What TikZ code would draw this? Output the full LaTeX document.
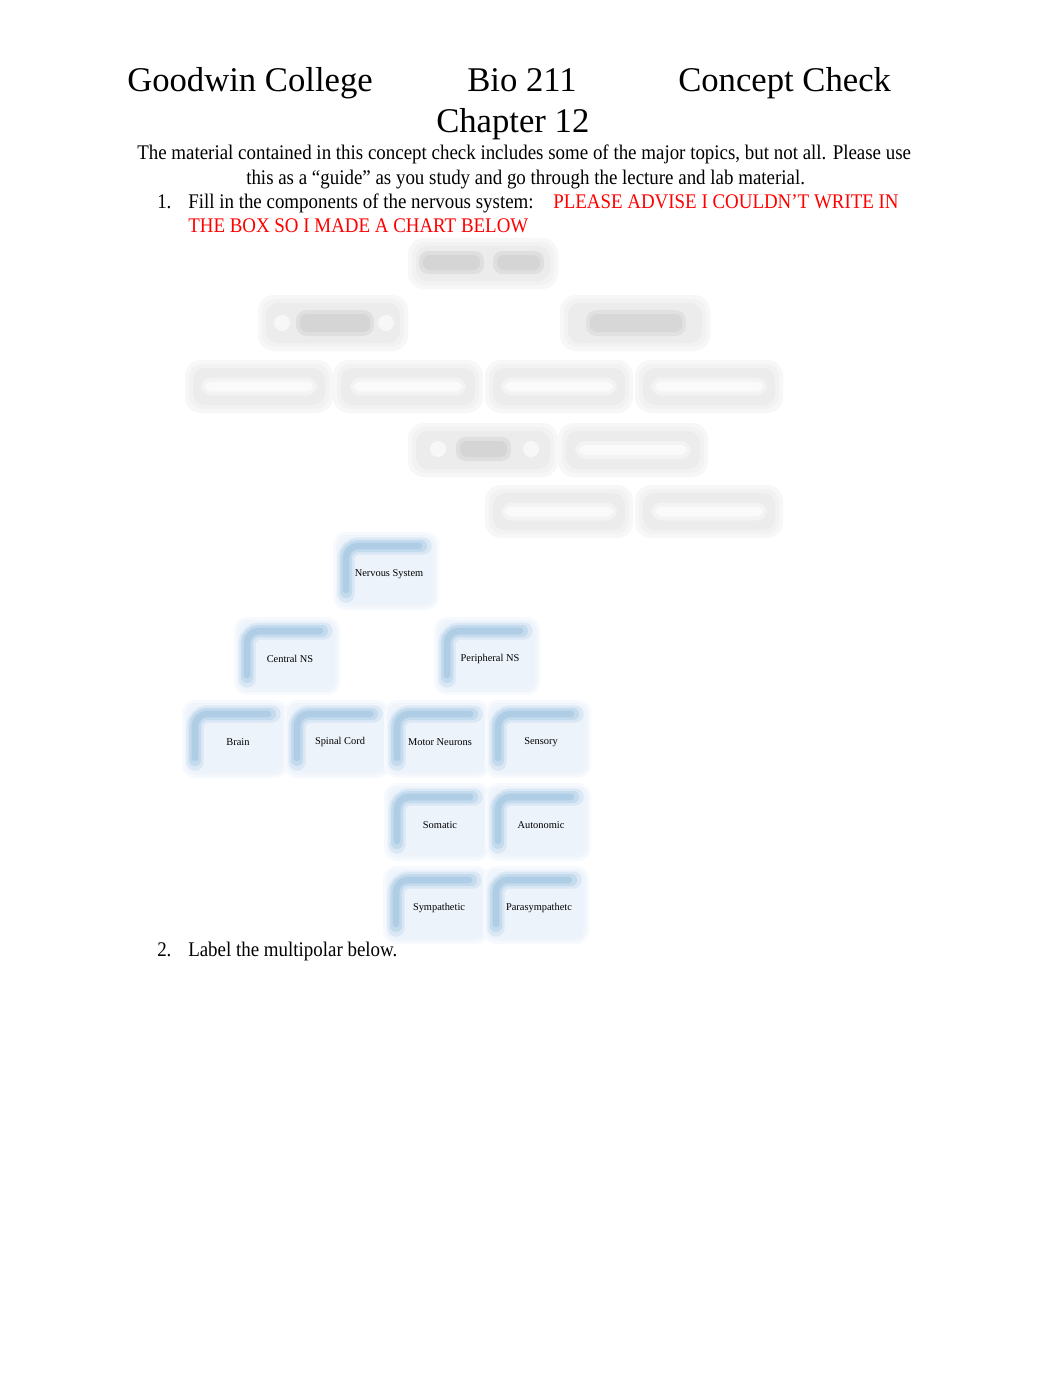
\documentclass[tikz,border=0pt]{standalone}
\usepackage{fontspec}
\setmainfont{Liberation Serif}
\newfontfamily\bodyfont[FakeStretch=0.91]{Liberation Serif}
\definecolor{redtxt}{RGB}{255,0,0}
\definecolor{bedge}{RGB}{120,170,212}
\definecolor{bfill}{RGB}{236,243,251}
\definecolor{gbox}{RGB}{236,236,236}
\definecolor{gglow}{RGB}{247,247,247}
\definecolor{gblob}{RGB}{205,205,205}
\tikzset{
  ptext/.style={inner sep=0pt, anchor=base west, font=\bodyfont\fontsize{15.6}{18}\selectfont},
  ttext/.style={inner sep=0pt, anchor=base west, font=\fontsize{26}{30}\selectfont},
  dtext/.style={inner sep=0pt, font=\fontsize{7.8}{9}\selectfont},
  gnode/.style={inner sep=0pt, minimum size=0pt},
}
% blue SmartArt-like box: name, text-center x, y, text
\newcommand\mybluebox[4]{%
  \fill[bfill!50, rounded corners=10] (#2-56,#3-40) rectangle (#2+50,#3+38);
  \fill[bfill!80, rounded corners=8] (#2-53,#3-37) rectangle (#2+47,#3+35);
  \fill[bfill, rounded corners=7] (#2-50,#3-34) rectangle (#2+44,#3+32);
  \draw[bedge, opacity=.15, line width=13pt, rounded corners=10, line cap=round] (#2-43,#3+22) -- (#2-43,#3-26) -- (#2+34,#3-26);
  \draw[bedge, opacity=.22, line width=9pt, rounded corners=9, line cap=round] (#2-43,#3+20) -- (#2-43,#3-26) -- (#2+32,#3-26);
  \draw[bedge, opacity=.25, line width=5pt, rounded corners=9, line cap=round] (#2-43,#3+18) -- (#2-43,#3-26) -- (#2+30,#3-26);
  \node[dtext] (#1) at (#2,#3+2) {#4};
}
% blurred grey box: name, x1, y1, x2, y2
\newcommand\mygraybox[5]{%
  \fill[gglow, rounded corners=12] (#2-5,#3-5) rectangle (#4+5,#5+5);
  \fill[gbox!70, rounded corners=10] (#2-1,#3-1) rectangle (#4+1,#5+1);
  \fill[gbox, rounded corners=9] (#2+3,#3+3) rectangle (#4-3,#5-3);
  \node[gnode] (#1) at ($(#2,#3)!.5!(#4,#5)$) {};
}
\newcommand\mywhitebar[1]{%
  \fill[white, opacity=.4, rounded corners=8] ($(#1)+(-58,-9)$) rectangle ($(#1)+(58,9)$);
  \fill[white, opacity=.6, rounded corners=5] ($(#1)+(-54,-5)$) rectangle ($(#1)+(54,5)$);
}
\usetikzlibrary{calc}
\begin{document}
\begin{tikzpicture}[x=0.75pt, y=-0.75pt]
\useasboundingbox (0,0) rectangle (1062,1377);
\fill[white] (0,0) rectangle (1062,1377);

% header
\node[ttext] (t1) at (127,92) {Goodwin College};
\node[ttext] (t2) at (467,92) {Bio 211};
\node[ttext] (t3) at (678,92) {Concept Check};
\node[ttext] (t4) at (436,133) {Chapter 12};

\node[ptext] (p1) at (137,160) {The material contained in this concept check includes some of the major topics, but not all. Please use};
\node[ptext] (p2) at (246,185) {this as a “guide” as you study and go through the lecture and lab material.};
\node[ptext] (n1) at (157,208) {1.};
\node[ptext] (q1) at (188,208) {Fill in the components of the nervous system:};
\node[ptext, text=redtxt] (r1) at (553,208) {PLEASE ADVISE I COULDN’T WRITE IN};
\node[ptext, text=redtxt] (r2) at (188,232) {THE BOX SO I MADE A CHART BELOW};

% blurred grey chart
\mygraybox{ga}{413}{243}{553}{284}
\fill[gblob, opacity=.4, rounded corners=7] (419,251) rectangle (484,274);
\fill[gblob, opacity=.5, rounded corners=5] (423,255) rectangle (480,270);
\fill[gblob, opacity=.4, rounded corners=7] (493,251) rectangle (544,274);
\fill[gblob, opacity=.5, rounded corners=5] (497,255) rectangle (540,270);
\mygraybox{gb}{263}{300}{403}{346}
\fill[gblob, opacity=.4, rounded corners=8] (296,310) rectangle (374,336);
\fill[gblob, opacity=.5, rounded corners=5] (300,314) rectangle (370,332);
\fill[white, opacity=.6] (282,323) circle (8);
\fill[white, opacity=.6] (386,323) circle (8);
\mygraybox{gc}{565}{300}{705}{346}
\fill[gblob, opacity=.35, rounded corners=8] (586,310) rectangle (686,336);
\fill[gblob, opacity=.45, rounded corners=5] (590,314) rectangle (682,332);
\mygraybox{gd}{190}{365}{328}{408}
\mygraybox{ge}{338}{365}{478}{408}
\mygraybox{gf}{490}{365}{628}{408}
\mygraybox{gg}{640}{365}{778}{408}
\mywhitebar{gd}\mywhitebar{ge}\mywhitebar{gf}\mywhitebar{gg}
\mygraybox{gh}{413}{428}{553}{472}
\fill[gblob, opacity=.4, rounded corners=7] (456,437) rectangle (511,461);
\fill[gblob, opacity=.5, rounded corners=5] (460,441) rectangle (507,457);
\fill[white, opacity=.6] (438,449) circle (8);
\fill[white, opacity=.6] (531,449) circle (8);
\mygraybox{gi}{563}{428}{703}{472}
\mywhitebar{gi}
\mygraybox{gj}{490}{490}{628}{533}
\mygraybox{gk}{640}{490}{778}{533}
\mywhitebar{gj}\mywhitebar{gk}

% blue chart
\mybluebox{ns}{389}{572}{Nervous System}
\mybluebox{cns}{290}{657}{Central NS}
\mybluebox{pns}{490}{657}{Peripheral NS}
\mybluebox{brain}{238}{740}{Brain}
\mybluebox{spinal}{340}{740}{Spinal Cord}
\mybluebox{motor}{440}{740}{Motor Neurons}
\mybluebox{sens}{541}{740}{Sensory}
\mybluebox{som}{440}{823}{Somatic}
\mybluebox{auto}{541}{823}{Autonomic}
\mybluebox{symp}{439}{906}{Sympathetic}
\mybluebox{para}{539}{906}{Parasympathetc}

\node[ptext] (n2) at (157,956) {2.};
\node[ptext] (q2) at (188,956) {Label the multipolar below.};
\end{tikzpicture}
\end{document}
